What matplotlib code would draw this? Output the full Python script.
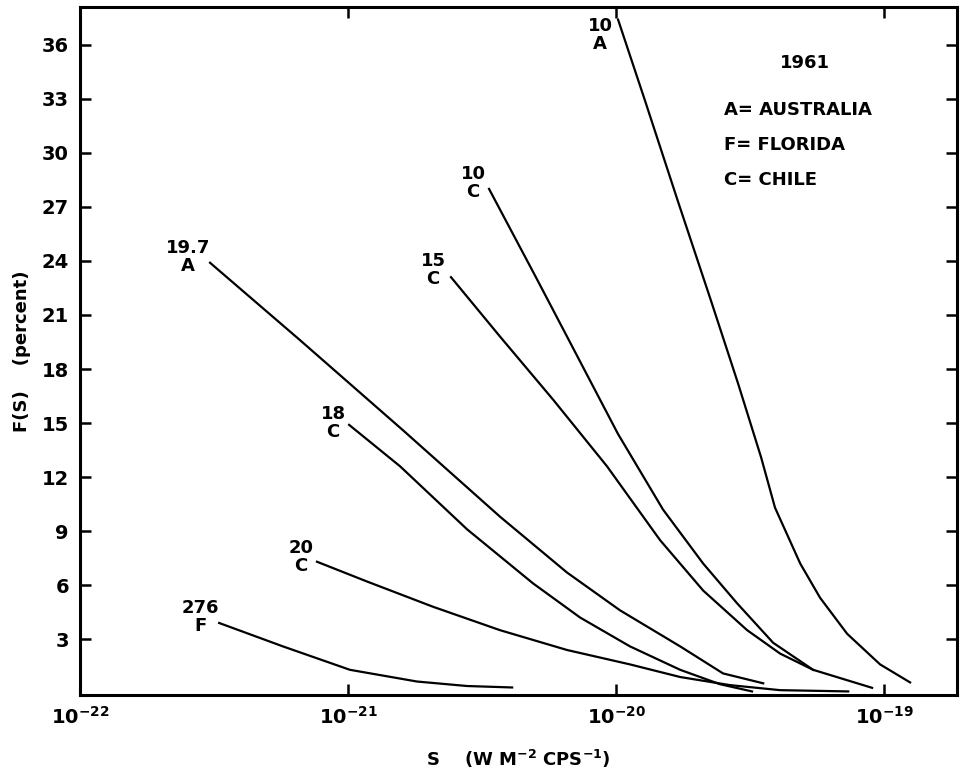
import matplotlib
matplotlib.use("Agg")
import matplotlib.pyplot as plt

plt.rcParams['font.family'] = ['DejaVu Sans']
plt.rcParams['font.weight'] = 'bold'
plt.rcParams['axes.labelweight'] = 'bold'
plt.rcParams['mathtext.default'] = 'bf'

# flux density S (W m^-2 Hz^-1) and F(S) in percent
s_10a = [1.017e-20, 1.282e-20, 1.702e-20, 2.259e-20, 2.851e-20, 3.475e-20, 3.917e-20,
         4.864e-20, 5.768e-20, 7.278e-20, 9.66e-20, 1.250e-19]
f_10a = [37.4, 32.9, 27.3, 21.8, 17.2, 13.1, 10.3, 7.2, 5.3, 3.3, 1.6, 0.6]

s_10c = [3.357e-21, 5.02e-21, 6.561e-21, 1.016e-20, 1.496e-20, 2.113e-20, 2.825e-20,
         3.855e-20, 5.433e-20]
f_10c = [28.0, 23.1, 19.8, 14.4, 10.2, 7.2, 5.0, 2.8, 1.3]

s_15c = [2.421e-21, 3.690e-21, 5.821e-21, 9.247e-21, 1.459e-20, 2.113e-20, 3.083e-20,
         4.093e-20, 5.433e-20, 9.016e-20]
f_15c = [23.1, 19.8, 16.3, 12.6, 8.5, 5.7, 3.5, 2.2, 1.3, 0.3]

s_197a = [3.055e-22, 6.622e-22, 1.603e-21, 3.690e-21, 6.561e-21, 1.035e-20, 1.734e-20,
          2.506e-20, 3.540e-20]
f_197a = [23.9, 19.6, 14.6, 9.8, 6.7, 4.6, 2.6, 1.1, 0.55]

s_18c = [1.009e-21, 1.563e-21, 2.780e-21, 4.898e-21, 7.345e-21, 1.127e-20, 1.734e-20,
         2.443e-20, 3.214e-20]
f_18c = [14.9, 12.6, 9.1, 6.1, 4.2, 2.6, 1.3, 0.5, 0.1]

s_20c = [7.656e-22, 1.178e-21, 2.075e-21, 3.690e-21, 6.561e-21, 1.127e-20, 1.734e-20,
         2.661e-20, 4.093e-20, 7.345e-20]
f_20c = [7.3, 6.2, 4.8, 3.5, 2.4, 1.6, 0.9, 0.45, 0.17, 0.1]

s_276f = [3.304e-22, 5.715e-22, 1.016e-21, 1.807e-21, 2.780e-21, 4.093e-21]
f_276f = [3.9, 2.6, 1.3, 0.65, 0.4, 0.32]

curves = [
    (s_10a, f_10a, "10\nA", (-18, -15)),
    (s_10c, f_10c, "10\nC", (-16, 6)),
    (s_15c, f_15c, "15\nC", (-18, 7)),
    (s_197a, f_197a, "19.7\nA", (-22, 6)),
    (s_18c, f_18c, "18\nC", (-16, 2)),
    (s_20c, f_20c, "20\nC", (-16, 5)),
    (s_276f, f_276f, "276\nF", (-19, 6)),
]

y_ticks = [3, 6, 9, 12, 15, 18, 21, 24, 27, 30, 33, 36]
x_ticks = [1e-22, 1e-21, 1e-20, 1e-19]
x_tick_labels = [r'$10^{-22}$', r'$10^{-21}$', r'$10^{-20}$', r'$10^{-19}$']

fig = plt.figure(figsize=(9.69, 7.77), dpi=100)
ax = fig.add_axes([0.0826, 0.1055, 0.905, 0.8855])

for s, f, label, (dx, dy) in curves:
    ax.plot(s, f, color='black', lw=1.6)
    ax.annotate(label, xy=(s[0], f[0]), xytext=(dx, dy), textcoords='offset pixels',
                ha='center', va='center', fontsize=13, linespacing=1.0)

ax.set_xscale('log')
ax.set_xlim(1e-22, 1.87e-19)
ax.set_ylim(-0.1, 38.1)
ax.set_xticks(x_ticks)
ax.set_xticklabels(x_tick_labels)
ax.minorticks_off()
ax.set_yticks(y_ticks)
ax.tick_params(direction='in', length=8, width=1.8, labelsize=14,
               top=True, right=True, pad=8)
for sp in ax.spines.values():
    sp.set_linewidth(2.2)

ax.set_xlabel(r'S    (W M$^{-2}$ CPS$^{-1}$)', fontsize=13, labelpad=14)
ax.set_ylabel('F(S)    (percent)', fontsize=13, labelpad=8)

ax.text(0.827, 0.919, '1961', transform=ax.transAxes, ha='center', va='center',
        fontsize=13)
legend_lines = ['A= AUSTRALIA', 'F= FLORIDA', 'C= CHILE']
legend_y = [0.850, 0.799, 0.749]
for txt, yy in zip(legend_lines, legend_y):
    ax.text(0.734, yy, txt, transform=ax.transAxes, ha='left', va='center',
            fontsize=13)

fig.savefig('out.png', dpi=100)
